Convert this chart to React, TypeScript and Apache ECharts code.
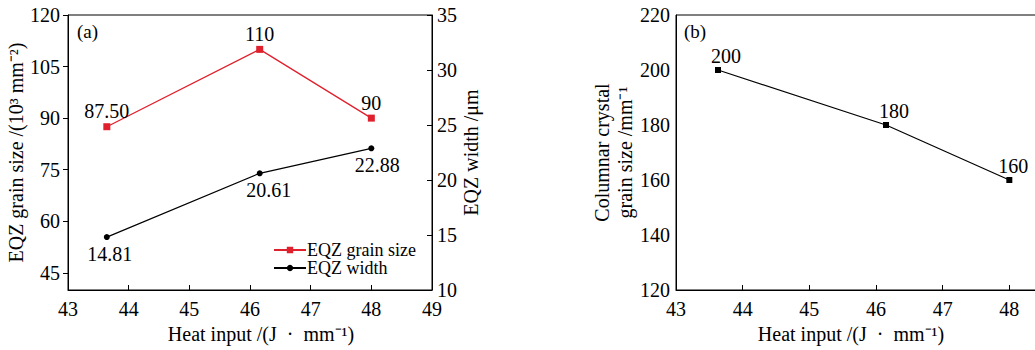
import React, { useEffect, useRef } from "react";
import * as echarts from "echarts";

const heatInputA = [43.64, 46.16, 48];
const grainSizeA = [87.5, 110, 90];
const grainLabelsA = ["87.50", "110", "90"];
const widthA = [14.81, 20.61, 22.88];
const widthLabelsA = ["14.81", "20.61", "22.88"];
const leftTicksA = [45, 60, 75, 90, 105, 120];

const heatInputB = [43.63, 46.15, 48];
const columnarB = [200, 180, 160];

const FONT = "Liberation Serif";

export default function App() {
  const ref = useRef<HTMLDivElement>(null);
  useEffect(() => {
    if (!ref.current) return;
    const chart = echarts.init(ref.current, undefined, { renderer: "svg" });
    const axisCommon = {
      axisLine: { show: true, lineStyle: { color: "#000", width: 1 } },
      splitLine: { show: false },
      axisLabel: { color: "#000", fontFamily: FONT, fontSize: 20 },
      nameTextStyle: { color: "#000", fontFamily: FONT, fontSize: 20 },
    };
    const xAxisBase = (gridIndex: number) => ({
      ...axisCommon,
      type: "value",
      gridIndex,
      min: 43,
      max: 49,
      interval: 1,
      name: "Heat input /(J\u2002·\u2002mm⁻¹)",
      nameLocation: "middle",
      nameGap: 34,
      nameTextStyle: {
        ...axisCommon.nameTextStyle,
        padding: gridIndex === 0 ? [0, 0, 0, 22] : [0, 50, 0, 0],
      },
      axisTick: { show: true, inside: true, length: 5, lineStyle: { color: "#000" } },
      axisLabel: {
        ...axisCommon.axisLabel,
        margin: 9,
        formatter: (v: number) => (gridIndex === 1 && v === 49 ? "" : String(v)),
      },
    });
    const grainData = heatInputA.map((x, i) => [x, grainSizeA[i]]);
    const widthData = heatInputA.map((x, i) => [x, widthA[i]]);
    const colData = heatInputB.map((x, i) => [x, columnarB[i]]);
    const labelStyle = { color: "#000", fontFamily: FONT, fontSize: 20 };
    chart.setOption({
      animation: false,
      textStyle: { fontFamily: FONT },
      grid: [
        { left: 68, top: 15, width: 364, height: 275, show: true, borderColor: "#000", borderWidth: 1, backgroundColor: "transparent", outerBoundsMode: "none", containLabel: false },
        { left: 676, top: 15, width: 400, height: 275, show: true, borderColor: "#000", borderWidth: 1, backgroundColor: "transparent", outerBoundsMode: "none", containLabel: false },
      ],
      xAxis: [xAxisBase(0), xAxisBase(1)],
      yAxis: [
        {
          ...axisCommon,
          type: "value",
          gridIndex: 0,
          position: "left",
          min: 40,
          max: 120,
          name: "EQZ grain size /(10³ mm⁻²)",
          nameLocation: "middle",
          nameGap: 36,
          axisTick: { show: true, inside: false, length: 5, customValues: leftTicksA, lineStyle: { color: "#000" } },
          axisLabel: { ...axisCommon.axisLabel, margin: 8, customValues: leftTicksA },
        },
        {
          ...axisCommon,
          type: "value",
          gridIndex: 0,
          position: "right",
          min: 10,
          max: 35,
          interval: 5,
          name: "EQZ width /μm",
          nameLocation: "middle",
          nameGap: 28,
          axisTick: { show: true, inside: true, length: 5, lineStyle: { color: "#000" } },
          axisLabel: { ...axisCommon.axisLabel, margin: 5 },
        },
        {
          ...axisCommon,
          type: "value",
          gridIndex: 1,
          position: "left",
          min: 120,
          max: 220,
          interval: 20,
          name: "Columnar crystal\ngrain size /mm⁻¹",
          nameLocation: "middle",
          nameGap: 38,
          nameTextStyle: { ...axisCommon.nameTextStyle, lineHeight: 23 },
          axisTick: { show: false },
          axisLabel: { ...axisCommon.axisLabel, margin: 6 },
        },
      ],
      legend: {
        left: 268,
        top: 236,
        orient: "vertical",
        itemWidth: 32,
        itemHeight: 8,
        itemGap: 0,
        textStyle: { color: "#000", fontFamily: FONT, fontSize: 18, padding: [0, 0, 0, -4] },
        data: ["EQZ grain size", "EQZ width"],
      },
      graphic: [
        { type: "text", left: 77, top: 22, style: { text: "(a)", fontFamily: FONT, fontSize: 19, fill: "#000" } },
        { type: "text", left: 684, top: 22, style: { text: "(b)", fontFamily: FONT, fontSize: 19, fill: "#000" } },
      ],
      series: [
        {
          name: "EQZ grain size",
          type: "line",
          xAxisIndex: 0,
          yAxisIndex: 0,
          data: grainData,
          symbol: "rect",
          symbolSize: 7,
          itemStyle: { color: "#e0202c" },
          lineStyle: { color: "#e0202c", width: 1.3 },
          label: {
            show: true,
            position: "top",
            distance: 2,
            ...labelStyle,
            formatter: (p: any) => grainLabelsA[p.dataIndex],
          },
        },
        {
          name: "EQZ width",
          type: "line",
          xAxisIndex: 0,
          yAxisIndex: 1,
          data: widthData,
          symbol: "circle",
          symbolSize: 6,
          itemStyle: { color: "#000" },
          lineStyle: { color: "#000", width: 1.2 },
          label: {
            show: true,
            position: "bottom",
            distance: 4,
            ...labelStyle,
            formatter: (p: any) => widthLabelsA[p.dataIndex],
          },
          labelLayout: (p: any) => ({ dx: p.dataIndex === 0 ? 3 : p.dataIndex === 1 ? 9 : 6 }),
        },
        {
          name: "Columnar",
          type: "line",
          xAxisIndex: 1,
          yAxisIndex: 2,
          data: colData,
          symbol: "rect",
          symbolSize: 6,
          itemStyle: { color: "#000" },
          lineStyle: { color: "#000", width: 1.2 },
          label: { show: true, position: "top", distance: 1, ...labelStyle },
          labelLayout: (p: any) => ({ dx: p.dataIndex === 2 ? 4 : 8 }),
        },
      ],
    });
    return () => chart.dispose();
  }, []);
  return <div ref={ref} style={{ position: "absolute", left: 0, top: 0, width: 1035, height: 350 }} />;
}
